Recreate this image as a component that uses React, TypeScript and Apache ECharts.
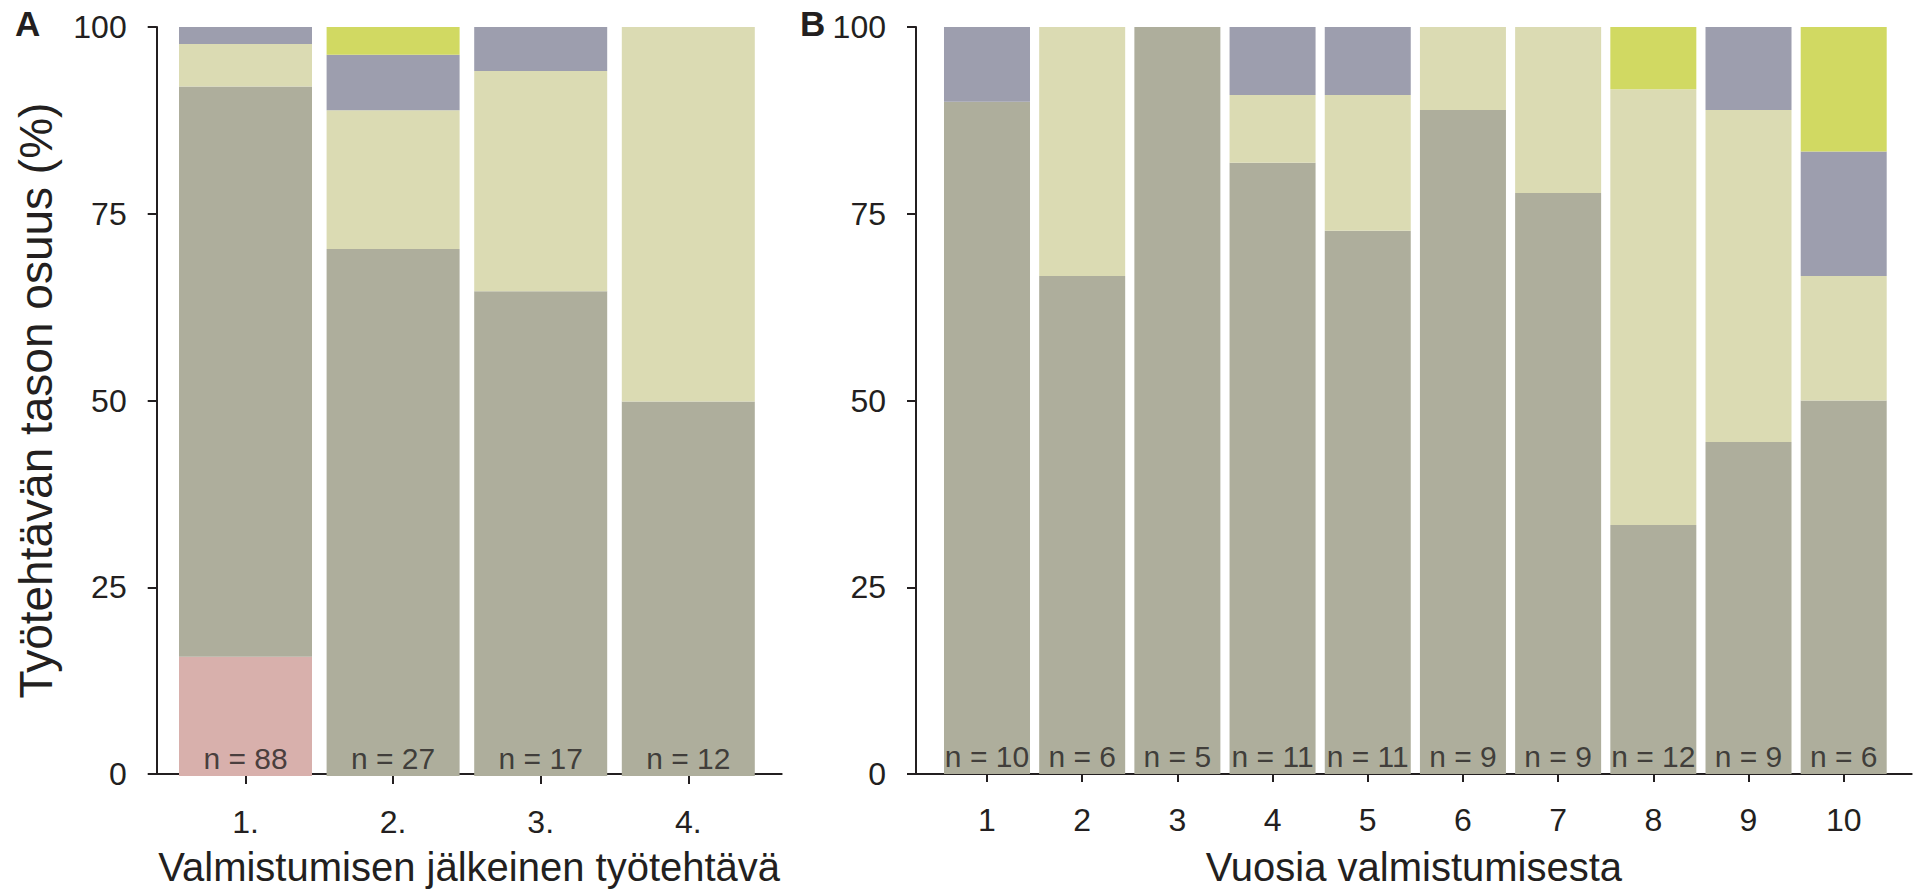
import React, { useEffect, useRef } from "react";
import * as echarts from "echarts";

// Panel A: job after graduation (counts per level)
const jobCategories = ["1.", "2.", "3.", "4."];
const jobN = [88, 27, 17, 12];
const jobPink = [14, 0, 0, 0];
const jobDark = [67, 19, 11, 6];
const jobKhaki = [5, 5, 5, 6];
const jobPurple = [2, 2, 1, 0];
const jobGreen = [0, 1, 0, 0];

// Panel B: years since graduation (counts per level)
const yearCategories = ["1", "2", "3", "4", "5", "6", "7", "8", "9", "10"];
const yearN = [10, 6, 5, 11, 11, 9, 9, 12, 9, 6];
const yearPink = [0, 0, 0, 0, 0, 0, 0, 0, 0, 0];
const yearDark = [9, 4, 5, 9, 8, 8, 7, 4, 4, 3];
const yearKhaki = [0, 2, 0, 1, 2, 1, 2, 7, 4, 1];
const yearPurple = [1, 0, 0, 1, 1, 0, 0, 0, 1, 1];
const yearGreen = [0, 0, 0, 0, 0, 0, 0, 1, 0, 1];

const yTicks = [0, 25, 50, 75, 100];

const COLORS: Record<string, string> = {
  pink: "#d8b0ac",
  dark: "#aeae9c",
  khaki: "#dbdbb3",
  purple: "#9d9eae",
  green: "#d1d962",
};

const FONT = "Liberation Sans, Arial, Helvetica, sans-serif";
const INK = "#231f20";

function pct(counts: number[], n: number[]) {
  return counts.map((c, i) => (c / n[i]) * 100);
}

export default function App() {
  const ref = useRef<HTMLDivElement>(null);

  useEffect(() => {
    document.body.style.margin = "0";
    document.body.style.overflow = "hidden";
    if (!ref.current) return;
    const chart = echarts.init(ref.current, undefined, { renderer: "svg" });

    const lineStyle = { color: INK, width: 2 };

    // frame axes (visible y axis + full-length x axis line)
    const frameY = (gridIndex: number, name: string) => ({
      type: "value" as const,
      gridIndex,
      min: 0,
      max: 100,
      interval: 25,
      name,
      nameLocation: "middle" as const,
      nameGap: 98,
      nameTextStyle: { fontFamily: FONT, fontSize: 46, color: INK },
      axisLine: { show: true, lineStyle },
      axisTick: { show: true, length: 9, lineStyle },
      axisLabel: {
        fontFamily: FONT,
        fontSize: 32,
        color: INK,
        margin: 30,
        padding: [0, 0, 8, 0],
        customValues: yTicks,
      },
      splitLine: { show: false },
    });
    const frameX = (gridIndex: number, name: string) => ({
      type: "value" as const,
      gridIndex,
      min: 0,
      max: 1,
      name,
      nameLocation: "middle" as const,
      nameGap: 73,
      nameTextStyle: { fontFamily: FONT, fontSize: 40, color: INK },
      axisLine: { show: true, lineStyle },
      axisTick: { show: false },
      axisLabel: { show: false },
      splitLine: { show: false },
    });
    // bar axes
    const barX = (gridIndex: number, cats: string[]) => ({
      type: "category" as const,
      gridIndex,
      data: cats,
      boundaryGap: true,
      axisLine: { show: false },
      axisTick: { show: true, alignWithLabel: true, length: 8, lineStyle },
      axisLabel: { fontFamily: FONT, fontSize: 32, color: INK, margin: 30 },
      splitLine: { show: false },
    });
    const barY = (gridIndex: number) => ({
      type: "value" as const,
      gridIndex,
      min: 0,
      max: 100,
      show: false,
      splitLine: { show: false },
    });

    const barSeries = (
      idx: number,
      stack: string,
      width: number,
      groups: [string, number[]][],
      n: number[]
    ) =>
      groups.map(([key, counts]) => ({
        type: "bar" as const,
        xAxisIndex: idx,
        yAxisIndex: idx,
        stack,
        barWidth: width,
        itemStyle: { color: COLORS[key] },
        data: pct(counts, n),
      }));

    const labelSeries = (idx: number, cats: string[], n: number[]) => ({
      type: "scatter" as const,
      xAxisIndex: idx,
      yAxisIndex: idx,
      symbolSize: 0,
      z: 10,
      data: n.map((v, i) => [cats[i], 0, v]),
      label: {
        show: true,
        position: "top" as const,
        distance: 3,
        fontFamily: FONT,
        fontSize: 30,
        color: INK,
        formatter: (p: any) => "n = " + p.value[2],
      },
    });

    chart.setOption({
      animation: false,
      textStyle: { fontFamily: FONT },
      grid: [
        { left: 156.7, top: 27, width: 625, height: 749 },
        { left: 171.7, top: 27, width: 590.4, height: 749 },
        { left: 916, top: 27, width: 995.7, height: 747 },
        { left: 939.4, top: 27, width: 951.9, height: 747 },
      ],
      xAxis: [
        frameX(0, "Valmistumisen jälkeinen työtehtävä"),
        barX(1, jobCategories),
        frameX(2, "Vuosia valmistumisesta"),
        barX(3, yearCategories),
      ],
      yAxis: [
        frameY(0, "Työtehtävän tason osuus (%)"),
        barY(1),
        frameY(2, ""),
        barY(3),
      ],
      series: [
        ...barSeries(
          1,
          "a",
          133,
          [
            ["pink", jobPink],
            ["dark", jobDark],
            ["khaki", jobKhaki],
            ["purple", jobPurple],
            ["green", jobGreen],
          ],
          jobN
        ),
        ...barSeries(
          3,
          "b",
          86,
          [
            ["pink", yearPink],
            ["dark", yearDark],
            ["khaki", yearKhaki],
            ["purple", yearPurple],
            ["green", yearGreen],
          ],
          yearN
        ),
        labelSeries(1, jobCategories, jobN),
        labelSeries(3, yearCategories, yearN),
      ],
      graphic: [
        {
          type: "text",
          left: 15,
          top: 6,
          style: { text: "A", fontFamily: FONT, fontSize: 35, fontWeight: "bold", fill: INK },
        },
        {
          type: "text",
          left: 800,
          top: 6,
          style: { text: "B", fontFamily: FONT, fontSize: 35, fontWeight: "bold", fill: INK },
        },
      ],
    });

    return () => chart.dispose();
  }, []);

  return (
    <div
      ref={ref}
      style={{ position: "absolute", left: 0, top: 0, width: 1917, height: 892 }}
    />
  );
}
